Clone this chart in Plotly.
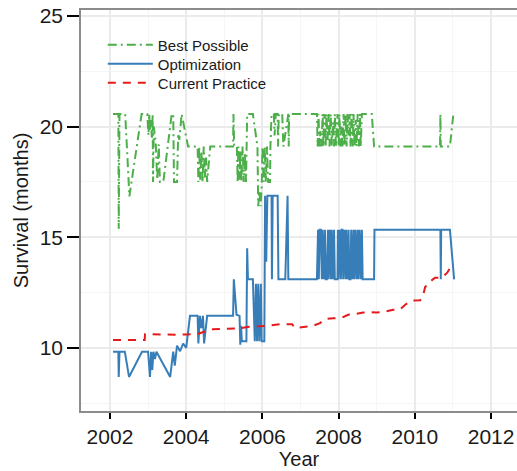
import plotly.graph_objects as go

# ---- data ----
best_years = [2002.08, 2002.22, 2002.23, 2002.25, 2002.40, 2002.51, 2002.83, 2002.98, 2003.01, 2003.03,
              2003.05, 2003.07, 2003.10, 2003.12, 2003.13, 2003.15, 2003.20, 2003.24, 2003.28, 2003.31,
              2003.40, 2003.62, 2003.66, 2003.68, 2003.76, 2003.79, 2003.82, 2003.88, 2004.05, 2004.30,
              2004.32, 2004.34, 2004.37, 2004.40, 2004.43, 2004.46, 2004.49, 2004.52, 2004.55, 2004.63,
              2005.23, 2005.24, 2005.26, 2005.33, 2005.35, 2005.37, 2005.40, 2005.42, 2005.45, 2005.48,
              2005.51, 2005.54, 2005.57, 2005.60, 2005.75, 2005.87, 2005.89, 2005.92, 2005.95, 2005.98,
              2006.00, 2006.03, 2006.06, 2006.09, 2006.12, 2006.15, 2006.20, 2006.21, 2006.24, 2006.30,
              2006.32, 2006.35, 2006.40, 2006.41, 2006.43, 2006.52, 2006.55, 2006.68, 2006.69, 2006.70,
              2007.40, 2007.43, 2007.45, 2007.47, 2007.50, 2007.52, 2007.55, 2007.58, 2007.60, 2007.63,
              2007.66, 2007.68, 2007.71, 2007.74, 2007.76, 2007.79, 2007.82, 2007.85, 2007.88, 2007.90,
              2007.93, 2007.97, 2008.00, 2008.02, 2008.05, 2008.07, 2008.10, 2008.13, 2008.15, 2008.18,
              2008.21, 2008.23, 2008.26, 2008.29, 2008.31, 2008.34, 2008.37, 2008.39, 2008.42, 2008.45,
              2008.47, 2008.50, 2008.53, 2008.56, 2008.58, 2008.61, 2008.87, 2008.93, 2010.66, 2010.67,
              2010.68, 2010.92, 2011.01]
best_vals = [20.57, 20.57, 15.38, 20.57, 20.57, 16.85, 20.57, 20.57, 19.6, 20.57,
             19.8, 20.3, 19.5, 20.57, 17.5, 20.0, 19.3, 17.6, 19.2, 17.5,
             17.5, 20.57, 20.57, 17.5, 17.5, 19.7, 19.4, 20.57, 19.1, 19.1,
             17.5, 19.1, 17.6, 18.9, 17.5, 19.1, 17.7, 18.6, 17.5, 19.1,
             19.1, 20.57, 19.1, 19.1, 17.5, 19.1, 17.6, 18.9, 17.5, 19.1,
             17.5, 18.8, 17.5, 20.57, 20.57, 19.1, 16.4, 17.1, 16.4, 17.2,
             19.1, 17.5, 19.1, 17.5, 19.1, 17.5, 17.5, 19.1, 20.57, 20.57,
             19.6, 20.57, 20.57, 19.1, 20.57, 20.57, 19.1, 20.57, 19.1, 20.57,
             20.57, 20.57, 19.1, 20.57, 19.1, 19.8, 19.1, 20.57, 19.1, 20.57,
             19.1, 20.57, 19.4, 20.57, 19.1, 20.57, 19.1, 20.2, 19.1, 20.57,
             19.1, 20.57, 19.1, 20.57, 19.1, 20.0, 19.1, 20.57, 19.1, 20.57,
             19.1, 20.57, 19.6, 20.57, 19.1, 20.57, 19.1, 20.57, 19.1, 20.3,
             19.1, 20.57, 19.1, 20.57, 19.1, 20.57, 20.57, 19.1, 19.1, 20.57,
             19.1, 19.1, 20.57]

opt_years = [2002.08, 2002.22, 2002.23, 2002.25, 2002.39, 2002.50, 2002.84, 2003.00, 2003.05, 2003.08,
             2003.11, 2003.14, 2003.18, 2003.22, 2003.58, 2003.66, 2003.70, 2003.76, 2003.84, 2003.92,
             2004.00, 2004.10, 2004.30, 2004.32, 2004.36, 2004.40, 2004.44, 2004.47, 2004.55, 2005.23,
             2005.25, 2005.32, 2005.40, 2005.42, 2005.44, 2005.46, 2005.58, 2005.60, 2005.62, 2005.75,
             2005.80, 2005.83, 2005.86, 2005.89, 2005.92, 2005.96, 2005.98, 2006.05, 2006.07, 2006.10,
             2006.13, 2006.24, 2006.25, 2006.27, 2006.40, 2006.42, 2006.60, 2006.66, 2006.68, 2007.43,
             2007.46, 2007.48, 2007.50, 2007.53, 2007.56, 2007.58, 2007.61, 2007.64, 2007.66, 2007.69,
             2007.72, 2007.74, 2007.77, 2007.80, 2007.82, 2007.85, 2007.88, 2007.90, 2007.97, 2007.98,
             2008.00, 2008.03, 2008.06, 2008.08, 2008.10, 2008.12, 2008.15, 2008.18, 2008.20, 2008.23,
             2008.26, 2008.28, 2008.31, 2008.33, 2008.36, 2008.39, 2008.41, 2008.44, 2008.47, 2008.50,
             2008.52, 2008.55, 2008.58, 2008.61, 2008.63, 2008.93, 2008.94, 2010.67, 2010.68, 2010.69,
             2010.92, 2011.03]
opt_vals = [9.83, 9.83, 8.69, 9.83, 9.83, 8.69, 9.83, 9.83, 8.69, 9.83,
            9.0, 9.83, 9.5, 9.83, 8.69, 9.83, 9.2, 10.1, 9.85, 10.2,
            10.0, 11.45, 11.45, 10.2, 11.45, 10.9, 11.45, 10.2, 11.45, 11.45,
            13.1, 11.5, 11.45, 10.15, 11.0, 10.3, 10.3, 14.5, 13.1, 13.1,
            10.3, 12.9, 10.3, 12.9, 10.3, 12.9, 10.3, 10.3, 16.88, 13.9,
            16.88, 16.88, 13.1, 16.88, 16.88, 13.1, 13.1, 16.88, 13.1, 13.1,
            15.34, 13.1, 15.34, 15.34, 13.1, 15.34, 13.1, 15.34, 13.1, 13.1,
            15.34, 13.1, 15.34, 13.1, 15.34, 13.1, 15.34, 13.1, 13.1, 15.34,
            13.1, 15.34, 13.1, 15.34, 15.34, 13.1, 15.34, 13.1, 15.34, 13.1,
            15.34, 13.1, 13.1, 15.34, 13.1, 15.34, 13.1, 15.34, 13.1, 15.34,
            13.1, 15.34, 13.1, 15.34, 13.1, 13.1, 15.34, 15.34, 13.1, 15.34,
            15.34, 13.1]

cur_years = [2002.08, 2002.25, 2002.50, 2002.75, 2002.91, 2002.92, 2003.25, 2003.50, 2003.75, 2004.00,
             2004.28, 2004.45, 2004.70, 2005.00, 2005.41, 2005.60, 2006.00, 2006.12, 2006.46, 2006.78,
             2006.85, 2006.95, 2007.12, 2007.33, 2007.51, 2007.64, 2007.85, 2008.08, 2008.25, 2008.43,
             2008.64, 2008.82, 2009.00, 2009.22, 2009.43, 2009.61, 2009.77, 2009.93, 2010.14, 2010.22,
             2010.27, 2010.40, 2010.53, 2010.71, 2010.85, 2010.97]
cur_vals = [10.36, 10.36, 10.36, 10.36, 10.36, 10.62, 10.60, 10.60, 10.60, 10.61,
            10.62, 10.72, 10.84, 10.86, 10.88, 10.95, 10.98, 11.00, 11.07, 11.07,
            10.90, 10.92, 10.93, 11.00, 11.12, 11.30, 11.34, 11.36, 11.50, 11.53,
            11.60, 11.62, 11.60, 11.64, 11.72, 11.74, 11.98, 12.14, 12.15, 12.40,
            12.75, 13.00, 13.17, 13.18, 13.40, 13.75]

x_ticks = [2002, 2004, 2006, 2008, 2010, 2012]
y_ticks = [10, 15, 20, 25]

GREEN = "#4DAF4A"
BLUE = "#377EB8"
RED = "#E41A1C"
FONT = "Liberation Sans, Arial, sans-serif"

fig = go.Figure()
fig.add_trace(go.Scatter(x=best_years, y=best_vals, mode="lines", name="Best Possible",
                         legend="legend",
                         line=dict(color=GREEN, width=2, dash="9px,4px,2px,4px")))
fig.add_trace(go.Scatter(x=opt_years, y=opt_vals, mode="lines", name="Optimization",
                         legend="legend2",
                         line=dict(color=BLUE, width=2)))
fig.add_trace(go.Scatter(x=cur_years, y=cur_vals, mode="lines", name="Current Practice",
                         legend="legend3",
                         line=dict(color=RED, width=2, dash="8px,7px")))


def leg(py):
    # py: pixel row of the legend entry centre
    return dict(x=0.05, y=1 - (py - 10) / 401, xanchor="left", yanchor="middle",
                bgcolor="rgba(0,0,0,0)", font=dict(size=15, color="#1a1a1a"),
                itemwidth=45)


fig.update_layout(
    width=517, height=471,
    margin=dict(l=81, r=0, t=10, b=60, autoexpand=False),
    plot_bgcolor="white", paper_bgcolor="white",
    font=dict(family=FONT, size=21, color="#1a1a1a"),
    showlegend=True,
    legend=leg(45), legend2=leg(64), legend3=leg(83),
    xaxis=dict(range=[2001.24, 2012.68], tickvals=x_ticks, ticktext=[str(v) for v in x_ticks],
               showgrid=True, gridcolor="#EBEBEB", gridwidth=1.5,
               minor=dict(dtick=1, tick0=2001, showgrid=True, gridcolor="#F5F5F5", gridwidth=1),
               showline=True, linecolor="#8c8c8c", linewidth=1.5, mirror=True,
               ticks="outside", ticklen=6, tickwidth=1.5, tickcolor="black",
               zeroline=False, automargin=False,
               title=dict(text="Year", standoff=5, font=dict(size=20)),
               tickfont=dict(size=21)),
    yaxis=dict(range=[7.15, 25.27], tickvals=y_ticks,
               showgrid=True, gridcolor="#EBEBEB", gridwidth=1.5,
               minor=dict(dtick=2.5, tick0=0, showgrid=True, gridcolor="#F5F5F5", gridwidth=1),
               showline=True, linecolor="#8c8c8c", linewidth=1.5, mirror=False,
               ticks="outside", ticklen=12, tickwidth=1.5, tickcolor="black",
               zeroline=False, automargin=False,
               title=dict(text="Survival (months)", standoff=6, font=dict(size=20)),
               tickfont=dict(size=21)),
)

fig.write_html("out.html", config={"displayModeBar": False},
               post_script="document.body.style.margin='0';document.body.style.overflow='hidden';")
